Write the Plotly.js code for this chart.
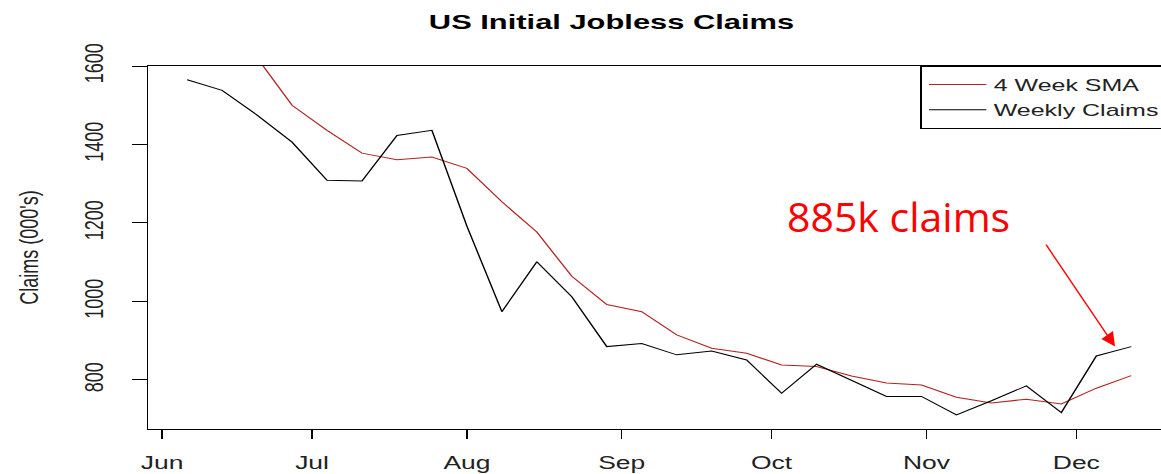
<!DOCTYPE html>
<html><head><meta charset="utf-8">
<script src="https://cdn.plot.ly/plotly-3.0.1.min.js"></script>
<style>
html,body{margin:0;padding:0;overflow:hidden;width:1161px;height:474px;background:#fff}
#main{position:absolute;left:0;top:0;width:800px;height:474px;transform:scaleX(1.47);transform-origin:0 0}
#over{position:absolute;left:0;top:0;width:1176px;height:474px;pointer-events:none}
</style></head><body>
<div id="main"></div><div id="over"></div>
<script>
// Week-ending dates (Saturdays, 2020)
const weekEnding = ['2020-06-06','2020-06-13','2020-06-20','2020-06-27','2020-07-04','2020-07-11','2020-07-18','2020-07-25',
  '2020-08-01','2020-08-08','2020-08-15','2020-08-22','2020-08-29','2020-09-05','2020-09-12','2020-09-19','2020-09-26',
  '2020-10-03','2020-10-10','2020-10-17','2020-10-24','2020-10-31','2020-11-07','2020-11-14','2020-11-21','2020-11-28',
  '2020-12-05','2020-12-12'];
// Weekly initial claims (000's)
const weeklyClaims = [1565,1538,1475,1406,1309,1307,1423,1436,1192,974,1101,1012,885,893,864,874,851,
  766,840,799,758,758,711,747,785,717,861,885];
// 4 week simple moving average (000's)
const sma4 = [2008,1781,1621,1500,1436,1378,1361,1368,1339,1254,1177,1064,992,974,915,881,868,
  838,834,810,792,787,756,741,751,739,779,811];
const monthTicks = ['2020-06-01','2020-07-01','2020-08-01','2020-09-01','2020-10-01','2020-11-01','2020-12-01'];
const monthLabels = ['Jun','Jul','Aug','Sep','Oct','Nov','Dec'];
const yTicks = [800,1000,1200,1400,1600];
const xRange = ['2020-05-29 06:10','2020-12-19 11:30'];
const yRange = [675,1600];

const S = 1.47;
const FONT = 'Liberation Sans, Arial, sans-serif';

const traces = [
  {x: weekEnding, y: sma4, type:'scatter', mode:'lines', name:'4 Week SMA', line:{color:'#B22222', width:1}},
  {x: weekEnding, y: weeklyClaims, type:'scatter', mode:'lines', name:'Weekly Claims', line:{color:'#000000', width:1}}
];

const layout = {
  width: 800, height: 474,
  margin: {l: 148/S, r: 800 - 1168/S, t: 65.7, b: 45, pad: 0},
  paper_bgcolor:'#ffffff', plot_bgcolor:'#ffffff',
  font:{family:FONT, color:'#000'},
  title:{text:'US Initial Jobless Claims', font:{size:21, family:FONT, weight:'bold', color:'#000'},
    xref:'container', x:416/800, xanchor:'center', yref:'container', y:1-22/474, yanchor:'middle'},
  xaxis:{type:'date', range:xRange, tickmode:'array', tickvals:monthTicks, ticktext:monthLabels,
    ticks:'outside', ticklen:9, tickwidth:1, tickcolor:'#000', ticklabelstandoff:8,
    showline:true, linecolor:'#000', linewidth:1,
    mirror:true, showgrid:false, zeroline:false, tickfont:{size:18, color:'#222'}},
  yaxis:{range:yRange, tickmode:'array', tickvals:yTicks, ticks:'outside', ticklen:10, tickwidth:1, tickcolor:'#000',
    ticklabelstandoff:13,
    tickangle:-90, showline:true, linecolor:'#000', linewidth:1, mirror:true, showgrid:false, zeroline:false,
    tickfont:{size:18, color:'#222'},
    title:{text:"Claims (000's)", font:{size:18, color:'#222'}, standoff:22}},
  legend:{x:1, xanchor:'right', y:1, yanchor:'top', bordercolor:'#000', borderwidth:1, bgcolor:'#fff',
    itemwidth:39, font:{size:17, color:'#222'}},
  showlegend:true
};

Plotly.newPlot('main', traces, layout, {displayModeBar:false, staticPlot:true});

const lastIdx = weeklyClaims.length - 1;
const overLayout = {
  width: 1176, height: 474,
  margin:{l:148, r:8, t:65.7, b:45, pad:0},
  paper_bgcolor:'rgba(0,0,0,0)', plot_bgcolor:'rgba(0,0,0,0)',
  xaxis:{type:'date', range:xRange, visible:false, fixedrange:true},
  yaxis:{range:yRange, visible:false, fixedrange:true},
  showlegend:false,
  annotations:[
    {xref:'paper', yref:'paper', x:(898.5-148)/1020, y:(429-216)/363.3, text:'885k claims', showarrow:false,
     xanchor:'center', yanchor:'middle', font:{family:'Open Sans, sans-serif', size:41, color:'#FF0000'}},
    {xref:'x', yref:'y', x:weekEnding[lastIdx], y:weeklyClaims[lastIdx], text:'', showarrow:true,
     arrowhead:2, arrowsize:2, arrowwidth:1.4, arrowcolor:'#FF0000', ax:-70, ay:-103.4, xshift:-15.6}
  ]
};
Plotly.newPlot('over', [], overLayout, {displayModeBar:false, staticPlot:true});
</script>
</body></html>
